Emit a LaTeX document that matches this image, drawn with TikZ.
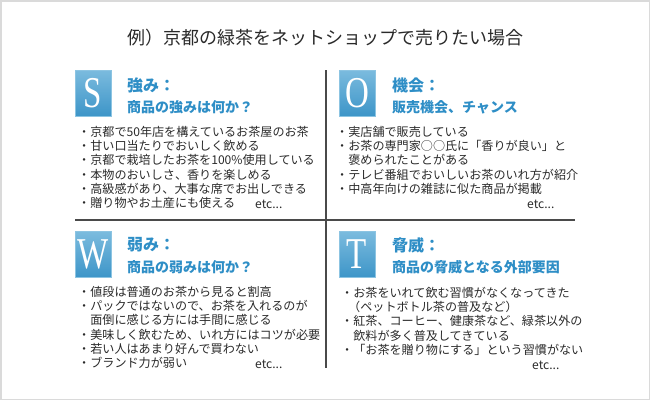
\documentclass[tikz,border=0pt]{standalone}
\usepackage{fontspec}
\setmainfont{Noto Sans CJK JP}
\newfontfamily\letterfont[FakeStretch=0.75]{Liberation Serif}
\definecolor{swotblue}{HTML}{2E8EC6}
\definecolor{boxtop}{HTML}{7BBBDE}
\definecolor{boxbot}{HTML}{3D95C8}
\definecolor{boxline}{HTML}{8CC4E2}
\definecolor{textgray}{HTML}{2A2A2A}
\definecolor{linegray}{HTML}{4A4A4A}
\definecolor{framegray}{HTML}{DADADA}

\begin{document}
\begin{tikzpicture}[x=1pt, y=-1pt,
  letter/.style={minimum width=36pt, minimum height=46pt, inner sep=0pt, top color=boxtop, bottom color=boxbot, draw=boxline, text=white, font=\letterfont\fontsize{44}{44}\selectfont},
  head/.style={anchor=west, inner sep=0pt, text=swotblue, font=\bfseries\fontsize{16}{16}\selectfont},
  subhead/.style={anchor=west, inner sep=0pt, text=swotblue, font=\bfseries\fontsize{14}{14}\selectfont},
  items/.style={anchor=north west, inner sep=0pt, align=left, text=textgray, font=\fontsize{12.1}{14.3}\selectfont},
  etcs/.style={anchor=base west, inner sep=0pt, text=textgray, font=\fontsize{12.1}{12.1}\selectfont},
  crossline/.style={draw=linegray, line width=2pt}]

\path[use as bounding box] (0,0) rectangle (650,400);
\draw[framegray, line width=1.5pt] (0.75,0.75) rectangle (649.25,399.25);

\node[text=textgray, font=\fontsize{18}{18}\selectfont] (title) at (325,38) {例）京都の緑茶をネットショップで売りたい場合};

\draw[crossline] (326,70) -- (326,368);
\draw[crossline] (75,220) -- (575,220);

\node[letter] (sbox) at (93,93) {S};
\node[head] (shead) at (127,85) {強み：};
\node[subhead] (ssub) at (127,107) {商品の強みは何か？};
\node[items] (slist) at (78,125.9) {・京都で50年店を構えているお茶屋のお茶\\・甘い口当たりでおいしく飲める\\・京都で栽培したお茶を100\%使用している\\・本物のおいしさ、香りを楽しめる\\・高級感があり、大事な席でお出しできる\\・贈り物やお土産にも使える};
\node[etcs] (setc) at (255,208) {etc...};

\node[letter] (obox) at (357,93) {O};
\node[head] (ohead) at (392,85) {機会：};
\node[subhead] (osub) at (392,107) {販売機会、チャンス};
\node[items] (olist) at (336,125.9) {・実店舗で販売している\\・お茶の専門家○○氏に「香りが良い」と\\\phantom{・}褒められたことがある\\・テレビ番組でおいしいお茶のいれ方が紹介\\・中高年向けの雑誌に似た商品が掲載};
\node[etcs] (oetc) at (527,208) {etc...};

\node[letter] (wbox) at (93,254.5) {W};
\node[head] (whead) at (127,245) {弱み：};
\node[subhead] (wsub) at (127,267) {商品の弱みは何か？};
\node[items] (wlist) at (78,285.9) {・値段は普通のお茶から見ると割高\\・パックではないので、お茶を入れるのが\\\phantom{・}面倒に感じる方には手間に感じる\\・美味しく飲むため、いれ方にはコツが必要\\・若い人はあまり好んで買わない\\・ブランド力が弱い};
\node[etcs] (wetc) at (255,368) {etc...};

\node[letter] (tbox) at (357,254.5) {T};
\node[head] (thead) at (392,245) {脅威：};
\node[subhead] (tsub) at (392,267) {商品の脅威となる外部要因};
\node[items] (tlist) at (341,286.9) {・お茶をいれて飲む習慣がなくなってきた\\\hspace{7pt}（ペットボトル茶の普及など）\\・紅茶、コーヒー、健康茶など、緑茶以外の\\\phantom{・}飲料が多く普及してきている\\・「お茶を贈り物にする」という習慣がない};
\node[etcs] (tetc) at (532,369) {etc...};
\end{tikzpicture}
\end{document}
